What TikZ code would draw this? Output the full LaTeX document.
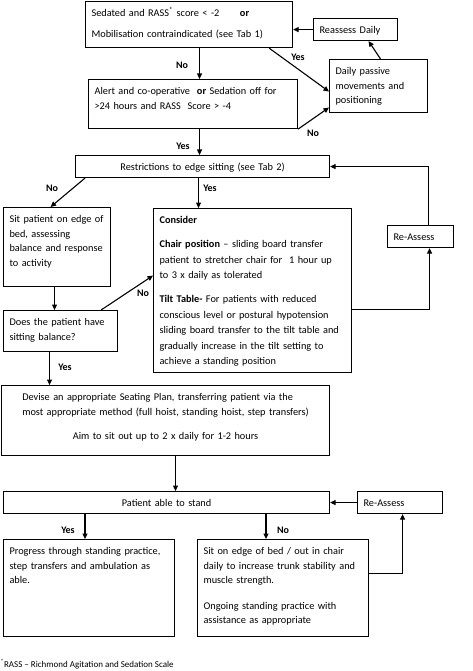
\documentclass[tikz,border=0pt]{standalone}
\usepackage{fontspec}
\setmainfont{Carlito}
\usetikzlibrary{arrows.meta}

\begin{document}
\begin{tikzpicture}[x=1pt, y=-1pt, line width=1.1pt,
        font=\fontsize{10.3}{14.5}\selectfont,
        >={Triangle[length=5.5pt, width=5pt]},
        box/.style 2 args={draw, anchor=north west, inner xsep=6pt, inner ysep=5pt,
            text height=10pt, align=left, text width=#1-12pt, text depth=#2-20pt},
        lbl/.style={inner sep=1pt, font=\fontsize{10}{11}\selectfont\bfseries}]
            \useasboundingbox (0,0) rectangle (473,671);

            % top decision
            \node [box={207}{46}] (sed) at (85,1) {Sedated and RASS\textsuperscript{*} score < -2\hspace{2em}\textbf{or}\\[6pt]Mobilisation contraindicated (see Tab 1)};
            \node [box={209}{49}] (alert) at (88,79) {Alert and co-operative \ \textbf{or} Sedation off for\\>24 hours and RASS \ Score > -4};
            \node [box={84}{22}] (reass) at (313,18) {Reassess Daily};
            \node [box={98}{53}] (passive) at (329,59) {Daily passive\\movements and\\positioning};

            \draw [->] ([xshift=10.5pt]sed.south) -- ([xshift=10.5pt]sed.south |- alert.north);
            \draw [->] ([xshift=-24pt]sed.south east) -- ([yshift=-5.5pt]passive.west);
            \draw [->] (alert.south east) -- ([yshift=-21.5pt]passive.west);
            \draw [->] ([xshift=2pt]passive.north) -- ([xshift=13pt]reass.south);
            \draw [->] (reass.west) -- (reass.west -| sed.east);
            \node [lbl] (no1) at (182,65) {No};
            \node [lbl] (yes1) at (298,57) {Yes};
            \node [lbl] (no2) at (313,133) {No};

            % edge sitting
            \node [box={254}{22}, align=center] (restr) at (75,155) {Restrictions to edge sitting (see Tab 2)};
            \node [box={107}{79}] (sitbed) at (3,207) {Sit patient on edge of\\bed, assessing\\balance and response\\to activity};
            \node [box={114}{41}] (balance) at (3,310) {Does the patient have\\sitting balance?};
            \node [box={198}{164}, font=\fontsize{10.3}{15.5}\selectfont] (consider) at (153,208) {\textbf{Consider}\\[8.5pt]\textbf{Chair position} -- sliding board transfer\\patient to stretcher chair for \ 1 hour up\\to 3 x daily as tolerated\\[8.5pt]\textbf{Tilt Table-} For patients with reduced\\conscious level or postural hypotension\\sliding board transfer to the tilt table and\\gradually increase in the tilt setting to\\achieve a standing position};
            \node [box={66}{22}] (reassA) at (387,225) {Re-Assess};

            \draw [->] ([xshift=6.5pt]alert.south) -- ([xshift=6.5pt]alert.south |- restr.north);
            \draw [->] ([xshift=10pt]restr.south west) -- ([xshift=-6.5pt]sitbed.north);
            \draw [->] ([xshift=-4pt]restr.south) -- ([xshift=-4pt]restr.south |- consider.north);
            \draw [->] ([xshift=-2.5pt]sitbed.south) -- ([xshift=-2.5pt]sitbed.south |- balance.north);
            \draw [->] ([xshift=-17pt]balance.north east) -- ([yshift=15pt]consider.west);
            \draw [->] ([yshift=-19pt]consider.east) -| ([xshift=9pt]reassA.south);
            \draw [->] ([xshift=8pt]reassA.north) |- (restr.east);
            \node [lbl] (yes2) at (183,146) {Yes};
            \node [lbl] (no3) at (52,188) {No};
            \node [lbl] (yes3) at (210,188) {Yes};
            \node [lbl] (no4) at (143,293) {No};

            % seating and standing
            \node [box={328}{70}, align=center] (seating) at (1,385) {\begin{tabular}[t]{@{}l@{}}Devise an appropriate Seating Plan, transferring patient via the\\most appropriate method (full hoist, standing hoist, step transfers)\end{tabular}\\[12pt]Aim to sit out up to 2 x daily for 1-2 hours};
            \node [box={326}{22}, align=center] (stand) at (3,491) {Patient able to stand};
            \node [box={85}{22}] (reassB) at (357,491) {Re-Assess};
            \node [box={171}{97}] (progress) at (3,539) {Progress through standing practice,\\step transfers and ambulation as\\able.};
            \node [box={171}{97}] (sitedge) at (197,539) {Sit on edge of bed / out in chair\\daily to increase trunk stability and\\muscle strength.\\[11pt]Ongoing standing practice with\\assistance as appropriate};

            \draw [->] ([xshift=-11pt]balance.south) -- ([xshift=-11pt]balance.south |- seating.north);
            \draw [->] ([xshift=10pt]seating.south) -- ([xshift=10pt]seating.south |- stand.north);
            \draw [->] (reassB.west) -- (stand.east);
            \draw [->] ([xshift=82pt]stand.south west) -- ([xshift=82pt]stand.south west |- progress.north);
            \draw [->] ([xshift=263pt]stand.south west) -- ([xshift=263pt]stand.south west |- sitedge.north);
            \draw [->] ([yshift=14.5pt]sitedge.east) -| ([xshift=2.5pt]reassB.south);
            \node [lbl] (yes4) at (65,367) {Yes};
            \node [lbl] (yes5) at (68,530) {Yes};
            \node [lbl] (no5) at (283,530) {No};

            \node [anchor=west, inner sep=0pt, font=\fontsize{9}{10}\selectfont] (note) at (0,664) {\textsuperscript{*}RASS -- Richmond Agitation and Sedation Scale};
        \end{tikzpicture}
\end{document}
